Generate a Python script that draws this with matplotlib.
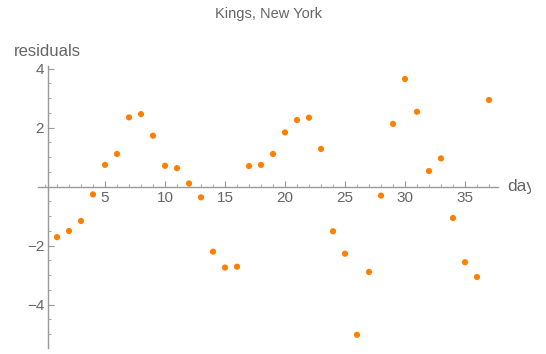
import matplotlib
matplotlib.use("Agg")
import matplotlib.pyplot as plt
from matplotlib.ticker import MultipleLocator, FixedLocator
from matplotlib.transforms import Bbox, TransformedBbox

days = list(range(1, 38))
residuals = [-1.71, -1.50, -1.16, -0.26, 0.74, 1.11, 2.35, 2.46, 1.73, 0.71,
             0.63, 0.11, -0.36, -2.20, -2.74, -2.71, 0.70, 0.74, 1.11, 1.84,
             2.26, 2.34, 1.28, -1.51, -2.27, -5.02, -2.89, -0.30, 2.13, 3.65,
             2.54, 0.53, 0.96, -1.06, -2.56, -3.06, 2.94]
x_ticks = [5, 10, 15, 20, 25, 30, 35]
y_ticks = [-4, -2, 2, 4]
title = "Kings, New York"
x_label = "days"
y_label = "residuals"

plt.rcParams['font.family'] = ['Liberation Sans', 'DejaVu Sans']
txt = '#666666'
axc = '#999999'

fig = plt.figure(figsize=(5.46, 3.54), dpi=100)
ax = fig.add_axes([38.4 / 546, (354 - 348.1) / 354, (498 - 38.4) / 546, (348.1 - 65.75) / 354])
ax.set_xlim(-0.55, 37.75)
ax.set_ylim(-5.47, 4.1)

ax.scatter(days, residuals, s=20, color='#FF8000', edgecolors='none', zorder=3)

for s in ['top', 'right']:
    ax.spines[s].set_visible(False)
ax.spines['left'].set_position(('data', 0.28))
ax.spines['bottom'].set_position(('data', 0))
for s in ['left', 'bottom']:
    ax.spines[s].set_color(axc)
    ax.spines[s].set_linewidth(1.0)

ax.xaxis.set_major_locator(FixedLocator(x_ticks))
ax.xaxis.set_minor_locator(MultipleLocator(1))
ax.yaxis.set_major_locator(FixedLocator(y_ticks))
ax.yaxis.set_minor_locator(MultipleLocator(0.5))
ax.tick_params(which='both', direction='in', color=axc, labelcolor=txt, labelsize=11)
ax.tick_params(which='major', length=4, width=0.8, pad=3)
ax.tick_params(which='minor', length=2, width=0.6)
ax.set_yticklabels(['\u22124', '\u22122', '2', '4'])

fig.text(268.5 / 546, 1 - 14 / 354, title, ha='center', va='center', color=txt, fontsize=10.5)
fig.text(14 / 546, 1 - 56 / 354, y_label, ha='left', va='baseline', color=txt, fontsize=12)
xl = fig.text(507.5 / 546, 1 - 186 / 354, x_label, ha='left', va='center', color=txt, fontsize=12.5)
xl.set_clip_box(TransformedBbox(Bbox([[0, 0], [531 / 546, 1]]), fig.transFigure))
xl.set_clip_on(True)

fig.savefig('out.png', dpi=100)
